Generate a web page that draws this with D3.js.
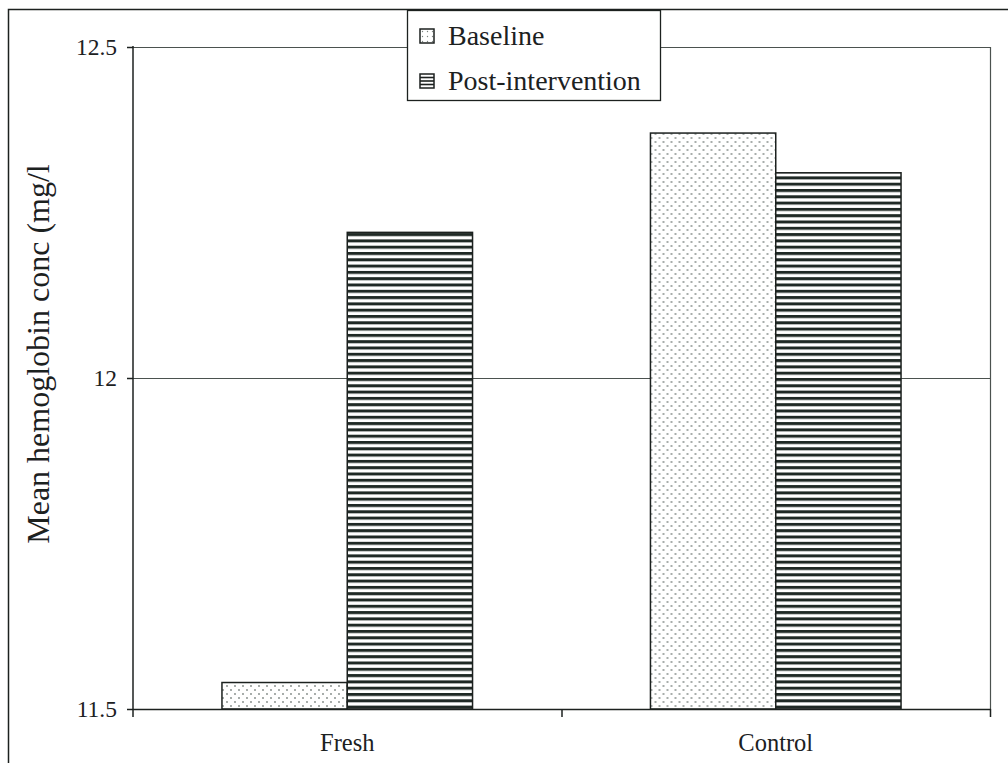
<!DOCTYPE html>
<html>
<head>
<meta charset="utf-8">
<script src="https://cdn.jsdelivr.net/npm/d3@7"></script>
<style>
  html, body { margin: 0; padding: 0; background: #fff; }
  svg { display: block; }
  text { font-family: "Liberation Serif", "DejaVu Serif", serif; fill: #1c211f; }
</style>
</head>
<body>
<script>
// Mean hemoglobin concentration by group, before and after intervention
const categories = ["Fresh", "Control"];
const seriesNames = ["Baseline", "Post-intervention"];
const baselineValues = [11.54, 12.37];
const postValues = [12.22, 12.31];
const yTicks = [11.5, 12, 12.5];
const yTickLabels = ["11.5", "12", "12.5"];
const yLabel = "Mean hemoglobin conc (mg/l";

const W = 1008, H = 763;
const ink = "#1c211f";
const serif = "Liberation Serif, DejaVu Serif, serif";
const plot = { left: 133, right: 990, top: 47, bottom: 709 };

const svg = d3.select("body").append("svg").attr("width", W).attr("height", H);

// fill patterns: fine dots and horizontal bands
const defs = svg.append("defs");
const dots = defs.append("pattern").attr("id", "dots")
  .attr("patternUnits", "userSpaceOnUse").attr("width", 8).attr("height", 8);
dots.append("rect").attr("width", 8).attr("height", 8).attr("fill", "#fff");
dots.append("circle").attr("cx", 2).attr("cy", 2).attr("r", 0.9).attr("fill", "#7f8783");
dots.append("circle").attr("cx", 6).attr("cy", 6).attr("r", 0.9).attr("fill", "#7f8783");

const bands = defs.append("pattern").attr("id", "bands")
  .attr("patternUnits", "userSpaceOnUse").attr("width", 8).attr("height", 6.3);
bands.append("rect").attr("width", 8).attr("height", 6.3).attr("fill", "#fff");
bands.append("rect").attr("y", 0).attr("width", 8).attr("height", 3).attr("fill", "#1f2925");

const legendSmallDots = defs.append("pattern").attr("id", "dotsSmall")
  .attr("patternUnits", "userSpaceOnUse").attr("width", 5).attr("height", 5);
legendSmallDots.append("rect").attr("width", 5).attr("height", 5).attr("fill", "#fff");
legendSmallDots.append("circle").attr("cx", 2.5).attr("cy", 2.5).attr("r", 0.7).attr("fill", "#7d8480");

// outer frame (left and top edges)
svg.append("path")
  .attr("d", `M8.5,${H} L8.5,9.5 L${W},9.5`)
  .attr("fill", "none").attr("stroke", ink).attr("stroke-width", 1.5);

// scales
const x0 = d3.scaleBand().domain(categories).range([plot.left, plot.right]).paddingInner(0).paddingOuter(0);
const x1 = d3.scaleBand().domain(seriesNames).range([0, x0.bandwidth()]).paddingInner(0).paddingOuter(0.71);
const y = d3.scaleLinear().domain([11.5, 12.5]).range([plot.bottom, plot.top]);

// gridlines
svg.append("g").selectAll("line").data(yTicks.slice(1)).join("line")
  .attr("x1", plot.left).attr("x2", plot.right)
  .attr("y1", d => Math.round(y(d)) + 0.5).attr("y2", d => Math.round(y(d)) + 0.5)
  .attr("stroke", "#4b524f").attr("stroke-width", 1.2);

// right border
svg.append("line")
  .attr("x1", plot.right + 0.5).attr("x2", plot.right + 0.5)
  .attr("y1", plot.top).attr("y2", plot.bottom)
  .attr("stroke", "#4b524f").attr("stroke-width", 1.2);

// bars
const rows = categories.map((c, i) => ({ cat: c, vals: [baselineValues[i], postValues[i]] }));
const groups = svg.append("g").selectAll("g").data(rows).join("g")
  .attr("transform", d => `translate(${x0(d.cat)},0)`);
groups.selectAll("rect").data(d => d.vals.map((v, j) => ({ name: seriesNames[j], v, j }))).join("rect")
  .attr("x", d => x1(d.name))
  .attr("y", d => y(d.v))
  .attr("width", x1.bandwidth())
  .attr("height", d => y(11.5) - y(d.v))
  .attr("fill", d => d.j === 0 ? "url(#dots)" : "url(#bands)")
  .attr("stroke", ink).attr("stroke-width", 1.5);

// y axis
const yAxis = d3.axisLeft(y).tickValues(yTicks).tickFormat((d, i) => yTickLabels[i])
  .tickSize(6).tickPadding(10);
const yg = svg.append("g").attr("transform", `translate(${plot.left},0)`).call(yAxis)
  .attr("font-family", serif).attr("font-size", 23.5);
yg.select(".domain").remove();
yg.selectAll(".tick line").attr("stroke", ink).attr("stroke-width", 1.5);
yg.selectAll(".tick text").attr("fill", ink).attr("dy", "0.32em");
svg.append("line").attr("x1", plot.left).attr("x2", plot.left)
  .attr("y1", plot.top - 1).attr("y2", plot.bottom + 8)
  .attr("stroke", ink).attr("stroke-width", 1.5);

// x axis
const xAxis = d3.axisBottom(x0).tickSize(0).tickPadding(25);
const xg = svg.append("g").attr("transform", `translate(0,${plot.bottom})`).call(xAxis)
  .attr("font-family", serif).attr("font-size", 24.5);
xg.select(".domain").remove();
xg.selectAll(".tick text").attr("fill", ink);
svg.append("line").attr("x1", plot.left).attr("x2", plot.right + 1)
  .attr("y1", plot.bottom + 0.5).attr("y2", plot.bottom + 0.5)
  .attr("stroke", ink).attr("stroke-width", 1.5);
// category boundary ticks
svg.append("g").selectAll("line").data(categories.slice(1).map(c => x0(c)).concat([plot.right])).join("line")
  .attr("x1", d => d + 0.5).attr("x2", d => d + 0.5)
  .attr("y1", plot.bottom).attr("y2", plot.bottom + 8)
  .attr("stroke", ink).attr("stroke-width", 1.5);

// y axis title
svg.append("text")
  .attr("transform", `translate(49,354) rotate(-90)`)
  .attr("text-anchor", "middle")
  .style("font-size", "32px")
  .text(yLabel);

// legend
const lg = svg.append("g").attr("transform", "translate(407,10)");
lg.append("rect").attr("x", 0.5).attr("y", 0.5).attr("width", 253).attr("height", 90)
  .attr("fill", "#fff").attr("stroke", ink).attr("stroke-width", 1.3);
const items = lg.selectAll("g").data(seriesNames).join("g")
  .attr("transform", (d, i) => `translate(13,${19 + i * 45})`);
items.append("rect").attr("width", 14).attr("height", 14)
  .attr("fill", (d, i) => i === 0 ? "url(#dotsSmall)" : "#fff")
  .attr("stroke", ink).attr("stroke-width", 1.5);
items.filter((d, i) => i === 1).selectAll("line").data([3.5, 7, 10.5]).join("line")
  .attr("x1", 0).attr("x2", 14).attr("y1", d => d).attr("y2", d => d)
  .attr("stroke", ink).attr("stroke-width", 1.6);
items.append("text").attr("x", 28).attr("y", 16)
  .style("font-size", "28px")
  .text(d => d);
</script>
</body>
</html>
